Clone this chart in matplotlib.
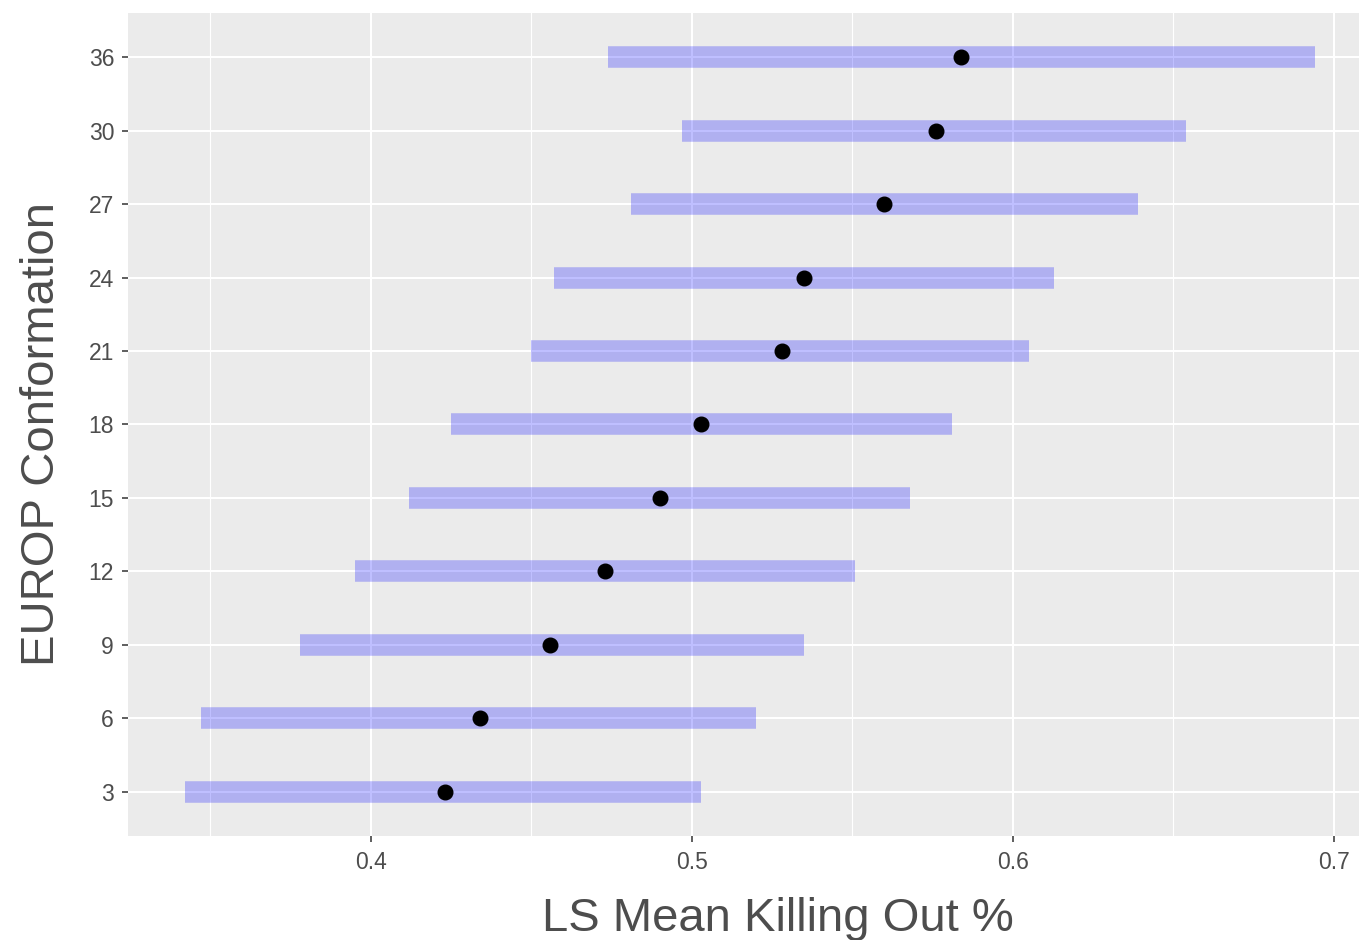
import numpy as np
import matplotlib
matplotlib.use("Agg")
import matplotlib.pyplot as plt
from matplotlib.ticker import MultipleLocator

plt.rcParams['font.family'] = ['Liberation Sans', 'DejaVu Sans']

# EUROP conformation classes (bottom to top)
conformation = ['3', '6', '9', '12', '15', '18', '21', '24', '27', '30', '36']
ls_mean = [0.423, 0.434, 0.456, 0.473, 0.490, 0.503, 0.528, 0.535, 0.560, 0.576, 0.584]
ci_low = [0.342, 0.347, 0.378, 0.395, 0.412, 0.425, 0.450, 0.457, 0.481, 0.497, 0.474]
ci_high = [0.503, 0.520, 0.535, 0.551, 0.568, 0.581, 0.605, 0.613, 0.639, 0.654, 0.694]

W, H = 1359, 940
fig = plt.figure(figsize=(W / 100, H / 100), dpi=100)
# panel spans a bit past the right edge of the picture
left, right, top, bottom = 128, 1371, 13, 836
ax = fig.add_axes([left / W, 1 - bottom / H, (right - left) / W, (bottom - top) / H])
ax.set_facecolor('#EBEBEB')
for s in ax.spines.values():
    s.set_visible(False)

ypos = np.arange(len(conformation))
ax.hlines(ypos, ci_low, ci_high, color='blue', alpha=0.25, linewidth=15.5, capstyle='butt', zorder=3)
ax.plot(ls_mean, ypos, 'o', color='black', markersize=10.5, zorder=4)

# ggplot-style expansion
lo, hi = min(ci_low), max(ci_high)
pad = (hi - lo) * 0.05
ax.set_xlim(lo - pad, hi + pad)
ax.set_ylim(-0.6, len(conformation) - 0.4)

ax.set_yticks(ypos)
ax.set_yticklabels(conformation)
ax.xaxis.set_minor_locator(MultipleLocator(0.05))
ax.set_xticks([0.4, 0.5, 0.6, 0.7])
ax.set_xticklabels(['0.4', '0.5', '0.6', '0.7'])

ax.grid(which='major', color='white', linewidth=1.5, zorder=1)
ax.grid(which='minor', axis='x', color='white', linewidth=0.8, zorder=1)
ax.set_axisbelow(True)
ax.tick_params(which='major', length=4.5, width=1.1, color='#333333', labelsize=16.5,
               labelcolor='#4D4D4D')
ax.tick_params(axis='x', pad=6)
ax.tick_params(axis='y', pad=5.5)
ax.tick_params(which='minor', length=0)

fig.text(778 / W, 1 - 919 / H, 'LS Mean Killing Out %', ha='center', va='center',
         fontsize=34, color='#4D4D4D')
fig.text(42 / W, 1 - 434 / H, 'EUROP Conformation', ha='center', va='center',
         rotation=90, fontsize=34, color='#4D4D4D')

fig.savefig('out.png', dpi=100, facecolor='white')
